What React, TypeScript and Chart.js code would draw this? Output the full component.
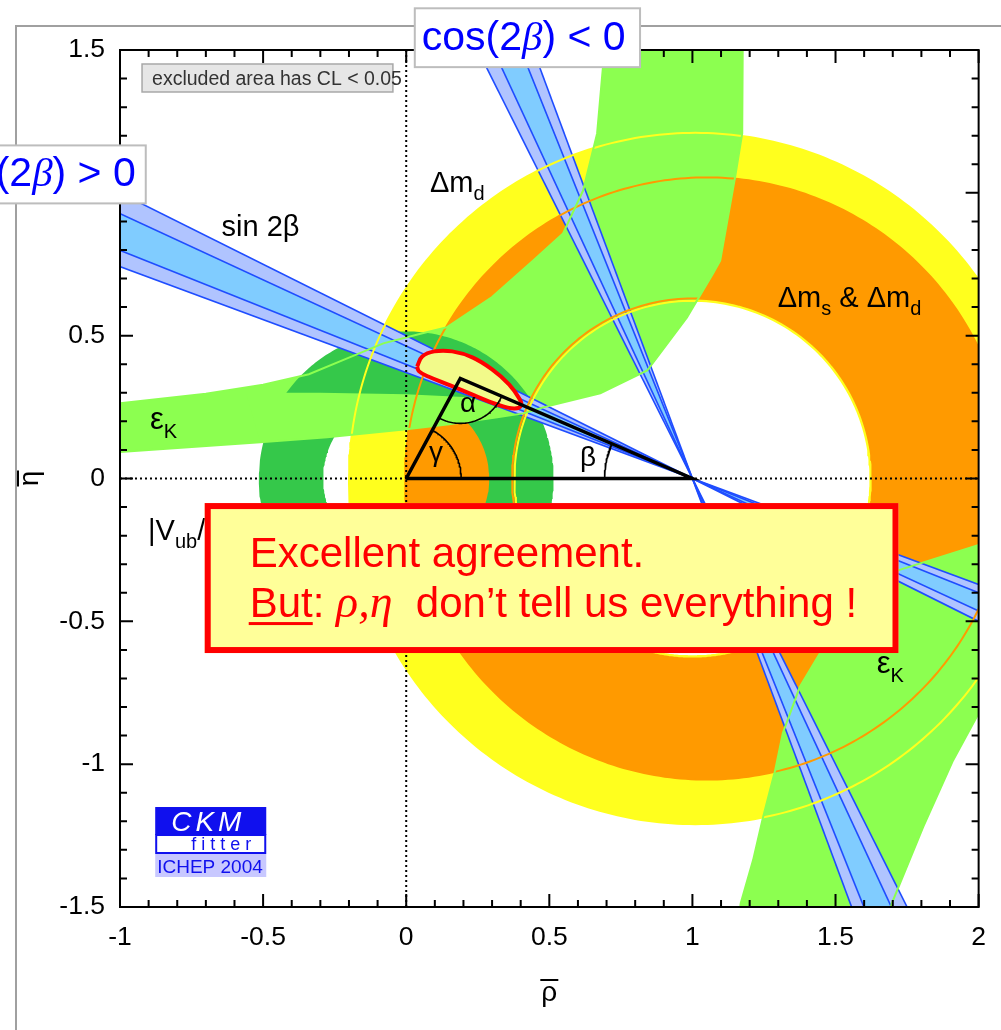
import React, { useEffect, useRef } from "react";
import { Chart, registerables } from "chart.js";

Chart.register(...registerables);

const CANVAS_W = 1001;
const CANVAS_H = 1030;

// axis ranges of the (ρ̄, η̄) plane
const rhoRange = [-1, 2];
const etaRange = [-1.5, 1.5];
const minorStep = 0.1;
const majorStep = 0.5;

// Δm_d constraint (yellow): outer / inner circle centres and radii [inner, outer]
const dmdOuterCentre = [1.01, 0];
const dmdInnerCentre = [1.0, 0];
const dmdRadii = [0.622, 1.21];

// Δm_s & Δm_d constraint (orange)
const dmsOuterCentre = [1.05, 0];
const dmsInnerCentre = [1.0, 0];
const dmsRadii = [0.63, 1.054];

// |Vub/Vcb| ring around the origin
const vubCentre = [0, 0];
const vubRadii = [0.29, 0.515];

// sin 2β intervals (95 % and 68 % CL); both solutions pivot on (1, 0)
const sin2bApex = [1, 0];
const sin2b95 = [0.652, 0.8];
const sin2b68 = [0.689, 0.763];

// ε_K, upper-left branch: upper edge (left → top) and lower edge (top → left)
const epsUpperEdgeA = [
  [-1.05, 0.258], [-0.7, 0.297], [-0.5, 0.328], [-0.34, 0.365], [-0.2, 0.423],
  [-0.08, 0.473], [0.05, 0.507], [0.143, 0.53], [0.3, 0.635], [0.444, 0.763],
  [0.548, 0.858], [0.618, 1.008], [0.667, 1.208], [0.697, 1.55],
];
const epsUpperEdgeB = [
  [1.176, 1.55], [1.174, 1.208], [1.149, 1.054], [1.097, 0.763], [1.072, 0.718],
  [0.981, 0.564], [0.842, 0.378], [0.678, 0.298], [0.479, 0.249], [0.409, 0.228],
  [0.318, 0.214], [0.15, 0.19], [0.0, 0.172], [-0.276, 0.144], [-0.51, 0.127],
  [-1.05, 0.089],
];
// ε_K, lower-right branch: inner edge (right → bottom) and outer edge (bottom → right)
const epsLowerEdgeA = [
  [2.05, -0.22], [1.995, -0.234], [1.724, -0.32], [1.609, -0.356], [1.445, -0.613],
  [1.375, -0.73], [1.316, -0.891], [1.288, -1.026], [1.247, -1.185], [1.212, -1.336],
  [1.169, -1.486], [1.16, -1.55],
];
const epsLowerEdgeB = [
  [1.68, -1.55], [1.697, -1.486], [1.806, -1.22], [1.911, -0.986], [2.0, -0.822], [2.05, -0.75],
];
// top of the ε_K strip that shows through the |Vub/Vcb| ring
const epsStripTop = [
  [-0.56, 0.3], [-0.3, 0.3], [0.0, 0.295], [0.2, 0.285], [0.42, 0.262], [0.5, 0.262],
];

// global CKM fit, 95 % CL contour
const fitContour = [
  [0.038, 0.392], [0.056, 0.427], [0.098, 0.445], [0.161, 0.445], [0.231, 0.424],
  [0.3, 0.382], [0.36, 0.329], [0.395, 0.28], [0.402, 0.256], [0.377, 0.245],
  [0.318, 0.259], [0.238, 0.291], [0.154, 0.326], [0.077, 0.357], [0.045, 0.375],
  [0.038, 0.392],
];

// apex of the unitarity triangle (ρ̄, η̄)
const triangleApex = [0.189, 0.35];

const SANS = "'Liberation Sans', Arial, Helvetica, sans-serif";
const SERIF = "'Liberation Serif', 'Times New Roman', serif";

const COL = {
  yellow: "#FFFF1E",
  orange: "#FF9A00",
  lightGreen: "#8CFF50",
  darkGreen: "#35C84A",
  blueOuter: "#B0C4FF",
  blueInner: "#80CCFF",
  blueLine: "#1F4DFF",
  fitFill: "#F2FA8A",
  red: "#FF0000",
};

type P = { x: number; y: number };
const toPts = (a: number[][]): P[] => a.map(([x, y]) => ({ x, y }));

function arc(c: number[], r: number, a0: number, a1: number, n: number): P[] {
  const out: P[] = [];
  for (let i = 0; i <= n; i++) {
    const a = a0 + ((a1 - a0) * i) / n;
    out.push({ x: c[0] + r * Math.cos(a), y: c[1] + r * Math.sin(a) });
  }
  return out;
}

function annulus(outerC: number[], innerC: number[], radii: number[]): P[] {
  return [
    ...arc(outerC, radii[1], 0, 2 * Math.PI, 360),
    ...arc(innerC, radii[0], 2 * Math.PI, 0, 240),
  ];
}

const isMajor = (v: number) => Math.abs(v / majorStep - Math.round(v / majorStep)) < 1e-6;

function area(data: P[], color: string): any {
  return {
    data,
    showLine: true,
    fill: "shape",
    backgroundColor: color,
    borderColor: "rgba(0,0,0,0)",
    borderWidth: 0,
    pointRadius: 0,
    pointHoverRadius: 0,
    tension: 0,
    clip: 0,
  };
}

function stroke(data: P[], color: string, width: number, dash: number[] = [], tension = 0): any {
  return {
    data,
    showLine: true,
    fill: false,
    backgroundColor: "rgba(0,0,0,0)",
    borderColor: color,
    borderWidth: width,
    borderDash: dash,
    pointRadius: 0,
    pointHoverRadius: 0,
    tension,
    clip: 0,
  };
}

// sin 2β wedge helpers: direction from the apex towards the upper left
const halfAngle = (s: number) => Math.asin(s) / 2;
const LEN = 4;
function dirA(s: number) {
  const b = halfAngle(s);
  return [-Math.cos(b), Math.sin(b)];
}
function dirB(s: number) {
  const b = halfAngle(s);
  return [-Math.sin(b), Math.cos(b)];
}
function wedge(dir: (s: number) => number[], range: number[]): P[] {
  const [ax, ay] = sin2bApex;
  const d1 = dir(range[0]);
  const d2 = dir(range[1]);
  return [
    { x: ax, y: ay },
    { x: ax + LEN * d1[0], y: ay + LEN * d1[1] },
    { x: ax + LEN * d2[0], y: ay + LEN * d2[1] },
    { x: ax, y: ay },
    { x: ax - LEN * d1[0], y: ay - LEN * d1[1] },
    { x: ax - LEN * d2[0], y: ay - LEN * d2[1] },
  ];
}
function throughApex(d: number[]): P[] {
  const [ax, ay] = sin2bApex;
  return [
    { x: ax - LEN * d[0], y: ay - LEN * d[1] },
    { x: ax + LEN * d[0], y: ay + LEN * d[1] },
  ];
}

function buildDatasets(): any[] {
  const layers: any[] = [];
  // measurement regions, bottom to top
  layers.push(area(annulus(dmdOuterCentre, dmdInnerCentre, dmdRadii), COL.yellow));
  layers.push(area(annulus(dmsOuterCentre, dmsInnerCentre, dmsRadii), COL.orange));
  layers.push(area(toPts([...epsUpperEdgeA, ...epsUpperEdgeB]), COL.lightGreen));
  layers.push(area(toPts([...epsLowerEdgeA, ...epsLowerEdgeB]), COL.lightGreen));
  layers.push(area(annulus(vubCentre, vubCentre, vubRadii), COL.darkGreen));
  const stripBottom = epsUpperEdgeB.filter(([r]) => r <= 0.5 && r >= -0.6);
  layers.push(area(toPts([...epsStripTop, ...stripBottom]), COL.lightGreen));

  // sin 2β, both solutions
  layers.push(area(wedge(dirA, sin2b95), COL.blueOuter));
  layers.push(area(wedge(dirB, sin2b95), COL.blueOuter));
  layers.push(area(wedge(dirA, sin2b68), COL.blueInner));
  layers.push(area(wedge(dirB, sin2b68), COL.blueInner));
  for (const s of [...sin2b95, ...sin2b68]) {
    layers.push(stroke(throughApex(dirA(s)), COL.blueLine, 1.6));
    layers.push(stroke(throughApex(dirB(s)), COL.blueLine, 1.6));
  }

  // contour lines of the Δm rings and of ε_K
  layers.push(stroke(arc(dmdOuterCentre, dmdRadii[1], 0, 2 * Math.PI, 360), COL.yellow, 2));
  layers.push(stroke(arc(dmdInnerCentre, dmdRadii[0], 0, 2 * Math.PI, 240), COL.yellow, 2));
  layers.push(stroke(arc(dmsOuterCentre, dmsRadii[1], 0, 2 * Math.PI, 360), COL.orange, 2));
  layers.push(stroke(arc(dmsInnerCentre, dmsRadii[0], 0, 2 * Math.PI, 240), COL.orange, 2));
  for (const edge of [epsUpperEdgeA, epsUpperEdgeB, epsLowerEdgeA, epsLowerEdgeB]) {
    layers.push(stroke(toPts(edge), COL.lightGreen, 2));
  }

  // ρ̄ = 0 and η̄ = 0 guide lines
  layers.push(stroke(toPts([[rhoRange[0], 0], [rhoRange[1], 0]]), "#000", 2, [2, 3]));
  layers.push(stroke(toPts([[0, etaRange[0]], [0, etaRange[1]]]), "#000", 2, [2, 3]));

  // global fit
  const fit = area(toPts(fitContour), COL.fitFill);
  fit.borderColor = COL.red;
  fit.borderWidth = 4;
  fit.tension = 0.4;
  layers.push(fit);

  // unitarity triangle and its angles
  const [ar, ae] = triangleApex;
  layers.push(stroke(toPts([[0, 0], [ar, ae], [1, 0], [0, 0]]), "#000", 3.5));
  const toOrigin = Math.atan2(-ae, -ar);
  const toOne = Math.atan2(-ae, 1 - ar);
  layers.push(stroke(arc(triangleApex, 0.157, toOrigin, toOne, 60), "#000", 1.6));
  layers.push(stroke(arc([0, 0], 0.192, 0, Math.atan2(ae, ar), 60), "#000", 1.6));
  layers.push(stroke(arc([1, 0], 0.307, Math.atan2(ae, ar - 1), Math.PI, 60), "#000", 1.6));

  const n = layers.length;
  layers.forEach((d, i) => (d.order = n - i));
  return layers;
}

type Run = { t: string; font: string; dy?: number; color?: string; underline?: boolean };

function drawRuns(ctx: CanvasRenderingContext2D, x: number, y: number, runs: Run[], align = "left", color = "#000") {
  let total = 0;
  for (const r of runs) {
    ctx.font = r.font;
    total += ctx.measureText(r.t).width;
  }
  let cx = align === "left" ? x : align === "right" ? x - total : x - total / 2;
  ctx.textAlign = "left";
  ctx.textBaseline = "alphabetic";
  for (const r of runs) {
    ctx.font = r.font;
    const w = ctx.measureText(r.t).width;
    ctx.fillStyle = r.color ?? color;
    ctx.fillText(r.t, cx, y + (r.dy ?? 0));
    if (r.underline) {
      ctx.fillRect(cx - 1, y + 5, w + 1, 3);
    }
    cx += w;
  }
}

const decorations = {
  id: "decorations",
  afterDatasetsDraw(chart: any) {
    const { ctx, chartArea: a } = chart;
    const xs = chart.scales.x;
    const ys = chart.scales.y;
    ctx.save();
    ctx.strokeStyle = "#000";
    ctx.lineWidth = 2;
    ctx.beginPath();
    for (const t of xs.ticks) {
      const x = xs.getPixelForValue(t.value);
      const len = isMajor(t.value) ? 13 : 7;
      ctx.moveTo(x, a.bottom);
      ctx.lineTo(x, a.bottom - len);
      ctx.moveTo(x, a.top);
      ctx.lineTo(x, a.top + len);
    }
    for (const t of ys.ticks) {
      const y = ys.getPixelForValue(t.value);
      const len = isMajor(t.value) ? 13 : 7;
      ctx.moveTo(a.left, y);
      ctx.lineTo(a.left + len, y);
      ctx.moveTo(a.right, y);
      ctx.lineTo(a.right - len, y);
    }
    ctx.stroke();
    ctx.strokeRect(a.left, a.top, a.right - a.left, a.bottom - a.top);
    ctx.restore();
  },
  afterDraw(chart: any) {
    const { ctx, chartArea: a } = chart;
    const xs = chart.scales.x;
    const ys = chart.scales.y;
    const P = (r: number, e: number) => [xs.getPixelForValue(r), ys.getPixelForValue(e)];
    ctx.save();

    // page frame
    ctx.strokeStyle = "#A0A0A0";
    ctx.lineWidth = 2;
    ctx.beginPath();
    ctx.moveTo(16, CANVAS_H);
    ctx.lineTo(16, 26);
    ctx.lineTo(CANVAS_W, 26);
    ctx.stroke();

    // axis titles with overbars
    ctx.fillStyle = "#000";
    ctx.font = `28px ${SANS}`;
    ctx.textAlign = "center";
    ctx.textBaseline = "alphabetic";
    const [rx] = P(0.5, 0);
    ctx.fillText("ρ", rx, a.bottom + 94);
    ctx.fillRect(rx - 9, a.bottom + 72, 18, 2);
    const [, ey] = P(0, 0);
    ctx.save();
    ctx.translate(0, ey);
    ctx.rotate(-Math.PI / 2);
    ctx.fillText("η", 0, 38);
    ctx.fillRect(-8, 17, 16, 2);
    ctx.restore();

    // constraint labels
    const main = `29px ${SANS}`;
    const sub = `20px ${SANS}`;
    const greek = `28px ${SANS}`;
    const eps = `31px ${SANS}`;
    const lab = (r: number, e: number, runs: Run[]) => {
      const [x, y] = P(r, e);
      drawRuns(ctx, x, y, runs);
    };
    lab(0.083, 1.002, [{ t: "Δm", font: main }, { t: "d", font: sub, dy: 8 }]);
    lab(-0.645, 0.848, [{ t: "sin 2β", font: main }]);
    lab(1.298, 0.6, [
      { t: "Δm", font: main }, { t: "s", font: sub, dy: 8 },
      { t: " & Δm", font: main }, { t: "d", font: sub, dy: 8 },
    ]);
    lab(-0.895, 0.175, [{ t: "ε", font: eps }, { t: "K", font: sub, dy: 9 }]);
    lab(1.644, -0.682, [{ t: "ε", font: eps }, { t: "K", font: sub, dy: 9 }]);
    lab(-0.902, -0.216, [
      { t: "|V", font: main }, { t: "ub", font: sub, dy: 8 },
      { t: "/V", font: main }, { t: "cb", font: sub, dy: 8 }, { t: "|", font: main },
    ]);
    lab(0.188, 0.232, [{ t: "α", font: greek }]);
    lab(0.08, 0.06, [{ t: "γ", font: greek }]);
    lab(0.607, 0.043, [{ t: "β", font: greek }]);

    // "excluded area" note
    {
      const [x0, y0] = P(-0.923, 1.451);
      const [x1, y1] = P(-0.0465, 1.353);
      ctx.fillStyle = "#E6E6E6";
      ctx.fillRect(x0, y0, x1 - x0, y1 - y0);
      ctx.strokeStyle = "#A8A8A8";
      ctx.lineWidth = 1.5;
      ctx.strokeRect(x0, y0, x1 - x0, y1 - y0);
      drawRuns(ctx, x0 + 10, y0 + 21, [{ t: "excluded area has CL < 0.05", font: `19.5px ${SANS}` }], "left", "#333");
    }

    // cos 2β solution tags
    const cosRuns = (rel: string): Run[] => [
      { t: "cos(2", font: `41px ${SANS}` },
      { t: "β", font: `italic 41px ${SERIF}` },
      { t: `) ${rel} 0`, font: `41px ${SANS}` },
    ];
    {
      const [x0, y0] = P(0.03, 1.646);
      const [x1, y1] = P(0.817, 1.44);
      ctx.fillStyle = "#FFF";
      ctx.fillRect(x0, y0, x1 - x0, y1 - y0);
      ctx.strokeStyle = "#BDBDBD";
      ctx.lineWidth = 2;
      ctx.strokeRect(x0, y0, x1 - x0, y1 - y0);
      drawRuns(ctx, x0 + 7, y0 + 42, cosRuns("<"), "left", "#0000FF");
    }
    {
      const [x0, y0] = P(-1.5, 1.166);
      const [x1, y1] = P(-0.91, 0.963);
      ctx.fillStyle = "#FFF";
      ctx.fillRect(x0, y0, x1 - x0, y1 - y0);
      ctx.strokeStyle = "#BDBDBD";
      ctx.lineWidth = 2;
      ctx.strokeRect(x0, y0, x1 - x0, y1 - y0);
      drawRuns(ctx, x1 - 10, y0 + 41, cosRuns(">"), "right", "#0000FF");
    }

    // comment box
    {
      const [x0, y0] = P(-0.704, -0.086);
      const [x1, y1] = P(1.72, -0.611);
      ctx.fillStyle = "#FFFF99";
      ctx.fillRect(x0, y0, x1 - x0, y1 - y0);
      ctx.strokeStyle = COL.red;
      ctx.lineWidth = 6;
      ctx.strokeRect(x0 + 3, y0 + 3, x1 - x0 - 6, y1 - y0 - 6);
      const f = `42px ${SANS}`;
      drawRuns(ctx, x0 + 45, y0 + 64, [{ t: "Excellent agreement.", font: f }], "left", COL.red);
      drawRuns(ctx, x0 + 45, y0 + 114, [
        { t: "But", font: f, underline: true },
        { t: ": ", font: f },
        { t: "ρ,η", font: `italic 46px ${SERIF}` },
        { t: "  don’t tell us everything !", font: f },
      ], "left", COL.red);
    }

    // CKMfitter badge
    {
      const [x0, y0] = P(-0.877, -1.15);
      const [x1, y1] = P(-0.489, -1.248);
      const [, y2] = P(0, -1.311);
      const [, y3] = P(0, -1.395);
      ctx.fillStyle = "#1010EE";
      ctx.fillRect(x0, y0, x1 - x0, y1 - y0);
      ctx.fillStyle = "#FFF";
      ctx.fillRect(x0, y1, x1 - x0, y2 - y1);
      ctx.strokeStyle = "#1010EE";
      ctx.lineWidth = 2;
      ctx.strokeRect(x0 + 1, y1, x1 - x0 - 2, y2 - y1);
      ctx.fillStyle = "#C8C8FF";
      ctx.fillRect(x0, y2 + 1, x1 - x0, y3 - y2 - 1);
      const spaced = (t: string, x: number, y: number, font: string, gap: number, color: string) => {
        ctx.font = font;
        ctx.fillStyle = color;
        let cx = x;
        for (const ch of t) {
          ctx.fillText(ch, cx, y);
          cx += ctx.measureText(ch).width + gap;
        }
      };
      ctx.textAlign = "left";
      spaced("CKM", x0 + 16, y0 + 24, `italic 28px ${SANS}`, 4, "#FFF");
      spaced("fitter", x0 + 36, y2 - 3, `18px ${SANS}`, 5, "#1010EE");
      ctx.font = `19px ${SANS}`;
      ctx.fillStyle = "#1010EE";
      ctx.fillText("ICHEP 2004", x0 + 2, y3 - 4);
    }

    ctx.restore();
  },
};

export default function App() {
  const ref = useRef<HTMLCanvasElement>(null);
  useEffect(() => {
    const tickLabel = (v: any) => (isMajor(Number(v)) ? String(Number(Number(v).toFixed(1))) : "");
    const tickFont = { family: SANS, size: 26.5 };
    const chart = new Chart(ref.current as HTMLCanvasElement, {
      type: "scatter",
      data: { datasets: buildDatasets() },
      options: {
        responsive: false,
        animation: false,
        devicePixelRatio: 1,
        events: [],
        layout: { padding: { left: 0, top: 50, right: 22, bottom: 0 } },
        plugins: { legend: { display: false }, tooltip: { enabled: false } },
        scales: {
          x: {
            type: "linear",
            position: "bottom",
            min: rhoRange[0],
            max: rhoRange[1],
            afterFit: (s: any) => { s.height = 123; },
            grid: { display: false, drawTicks: false },
            border: { display: false },
            ticks: {
              stepSize: minorStep, maxTicksLimit: 100, autoSkip: false, maxRotation: 0,
              padding: 15, color: "#000", font: tickFont, callback: tickLabel,
            },
          },
          y: {
            type: "linear",
            position: "left",
            min: etaRange[0],
            max: etaRange[1],
            afterFit: (s: any) => { s.width = 120; },
            grid: { display: false, drawTicks: false },
            border: { display: false },
            ticks: {
              stepSize: minorStep, maxTicksLimit: 100, autoSkip: false,
              padding: 15, color: "#000", font: tickFont, callback: tickLabel,
            },
          },
        },
      } as any,
      plugins: [decorations],
    });
    return () => chart.destroy();
  }, []);

  return (
    <div style={{ position: "fixed", left: 0, top: 0, width: CANVAS_W, height: CANVAS_H, background: "#fff" }}>
      <canvas ref={ref} width={CANVAS_W} height={CANVAS_H} style={{ display: "block", width: CANVAS_W, height: CANVAS_H }} />
    </div>
  );
}
